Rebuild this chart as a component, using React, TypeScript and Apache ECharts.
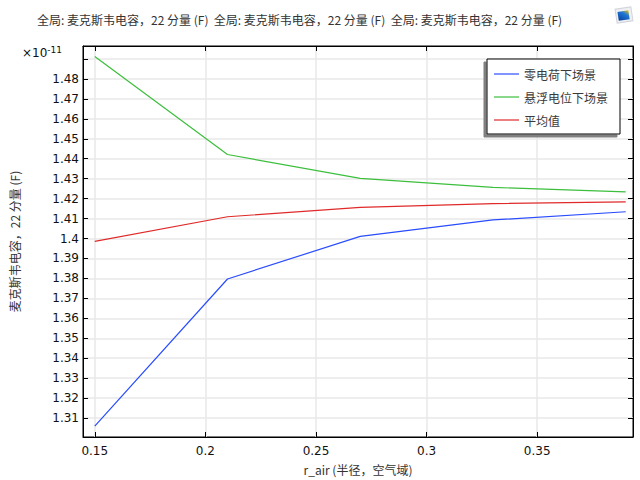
import { useEffect, useRef } from 'react';
import * as echarts from 'echarts';

// x values (r_air) and capacitance in units of 1e-11 F
const rAir = [0.15, 0.21, 0.27, 0.33, 0.39];
const zeroCharge = [1.306, 1.3797, 1.4011, 1.4093, 1.4134];
const floating = [1.4912, 1.4421, 1.4301, 1.4256, 1.4234];
const average = [1.3986, 1.4109, 1.4156, 1.4175, 1.4184];

const seriesNames = ['零电荷下场景', '悬浮电位下场景', '平均值'];
const xTicks = [0.15, 0.2, 0.25, 0.3, 0.35];
const yTicks = [1.31, 1.32, 1.33, 1.34, 1.35, 1.36, 1.37, 1.38, 1.39, 1.4, 1.41, 1.42, 1.43, 1.44, 1.45, 1.46, 1.47, 1.48, 1.49];
const yLabels = yTicks.slice(0, -1);

const title = '全局: 麦克斯韦电容，22 分量 (F)';
const xName = 'r_air (半径，空气域)';
const yName = '麦克斯韦电容，22 分量 (F)';

const fmt = (v: number) => String(+Number(v).toFixed(2));
const axisFont = 'DejaVu Sans, sans-serif';
const cjkFont = '"Noto Sans CJK SC", sans-serif';

export default function App() {
  const ref = useRef<HTMLDivElement>(null);

  useEffect(() => {
    document.body.style.margin = '0';
    if (!ref.current) return;
    const chart = echarts.init(ref.current, undefined, { renderer: 'svg' });
    const pair = (ys: number[]) => rAir.map((x, i) => [x, ys[i]]);
    const colors = ['#2a4dff', '#3cbf3c', '#e02a2a'];

    const frameX = {
      type: 'value',
      min: 0.14468,
      max: 0.3933,
      axisLine: { show: true, onZero: false, lineStyle: { color: '#000', width: 1 } },
      axisTick: { show: true, inside: true, length: 5, customValues: xTicks, lineStyle: { color: '#000', width: 1 } },
      splitLine: { show: false },
    };
    const frameY = {
      type: 'value',
      min: 1.3005,
      max: 1.4965,
      axisLine: { show: true, onZero: false, lineStyle: { color: '#000', width: 1 } },
      axisTick: { show: true, inside: true, length: 5, customValues: yTicks, lineStyle: { color: '#000', width: 1 } },
      splitLine: { show: false },
    };

    chart.setOption({
      animation: false,
      backgroundColor: '#fff',
      title: {
        text: `${title}  ${title}  ${title}`,
        left: 37,
        top: 13,
        padding: 0,
        textStyle: { fontFamily: cjkFont, fontSize: 12, fontWeight: 'normal', color: '#333' },
      },
      grid: { left: 72, right: 7, top: 46, bottom: 42, show: true, borderColor: '#000', borderWidth: 1, backgroundColor: 'transparent' },
      legend: {
        orient: 'vertical',
        left: 487,
        top: 59,
        data: seriesNames,
        icon: 'rect',
        itemWidth: 25,
        itemHeight: 1.2,
        itemGap: 9,
        padding: [8, 12, 7, 7],
        backgroundColor: '#fff',
        borderColor: '#000',
        borderWidth: 1,
        borderRadius: 0,
        shadowColor: '#808080',
        shadowOffsetX: -3,
        shadowOffsetY: 3,
        shadowBlur: 0,
        textStyle: { fontFamily: cjkFont, fontSize: 12, color: '#3a3a3a', lineHeight: 14 },
      },
      xAxis: [
        {
          ...frameX,
          position: 'bottom',
          name: xName,
          nameLocation: 'middle',
          nameGap: 26,
          nameTextStyle: { fontFamily: cjkFont, fontSize: 12, color: '#333' },
          axisLabel: { customValues: xTicks, formatter: fmt, color: '#111', fontFamily: axisFont, fontSize: 12, margin: 8 },
          splitLine: { show: true, lineStyle: { color: '#e8e8e8', width: 1.5 } },
        },
        { ...frameX, position: 'top', axisLabel: { show: false } },
      ],
      yAxis: [
        {
          ...frameY,
          position: 'left',
          name: yName,
          nameLocation: 'middle',
          nameGap: 63,
          nameTextStyle: { fontFamily: cjkFont, fontSize: 12, color: '#333' },
          axisLabel: { customValues: yLabels, formatter: fmt, color: '#111', fontFamily: axisFont, fontSize: 12, margin: 4 },
          splitLine: { show: true, lineStyle: { color: '#e8e8e8', width: 1.5 } },
        },
        { ...frameY, position: 'right', axisLabel: { show: false } },
      ],
      graphic: [
        {
          type: 'text',
          left: 22,
          top: 45,
          style: {
            text: '×10{sup|-11}',
            fontFamily: axisFont,
            fontSize: 12,
            fill: '#111',
            rich: { sup: { fontSize: 9, fontFamily: axisFont, fill: '#111', verticalAlign: 'top', padding: [0, 0, 6, 0] } },
          },
        },
        {
          type: 'group',
          x: 624,
          y: 15,
          rotation: 0.15,
          children: [
            { type: 'rect', shape: { x: -8, y: -7, width: 16, height: 14 }, style: { fill: '#eef0f3', stroke: '#d0d4da', lineWidth: 1 } },
            {
              type: 'rect',
              shape: { x: -6, y: -4, width: 11, height: 9 },
              style: {
                fill: new echarts.graphic.LinearGradient(1, 0, 0, 1, [
                  { offset: 0, color: '#f2c200' },
                  { offset: 0.35, color: '#1f78d8' },
                  { offset: 1, color: '#0b3f9a' },
                ]),
              },
            },
          ],
        },
      ],
      series: [zeroCharge, floating, average].map((ys, i) => ({
        name: seriesNames[i],
        type: 'line',
        data: pair(ys),
        symbol: 'none',
        color: colors[i],
        lineStyle: { width: 1.2, color: colors[i] },
      })),
    });

    return () => chart.dispose();
  }, []);

  return <div ref={ref} style={{ width: 640, height: 480 }} />;
}
